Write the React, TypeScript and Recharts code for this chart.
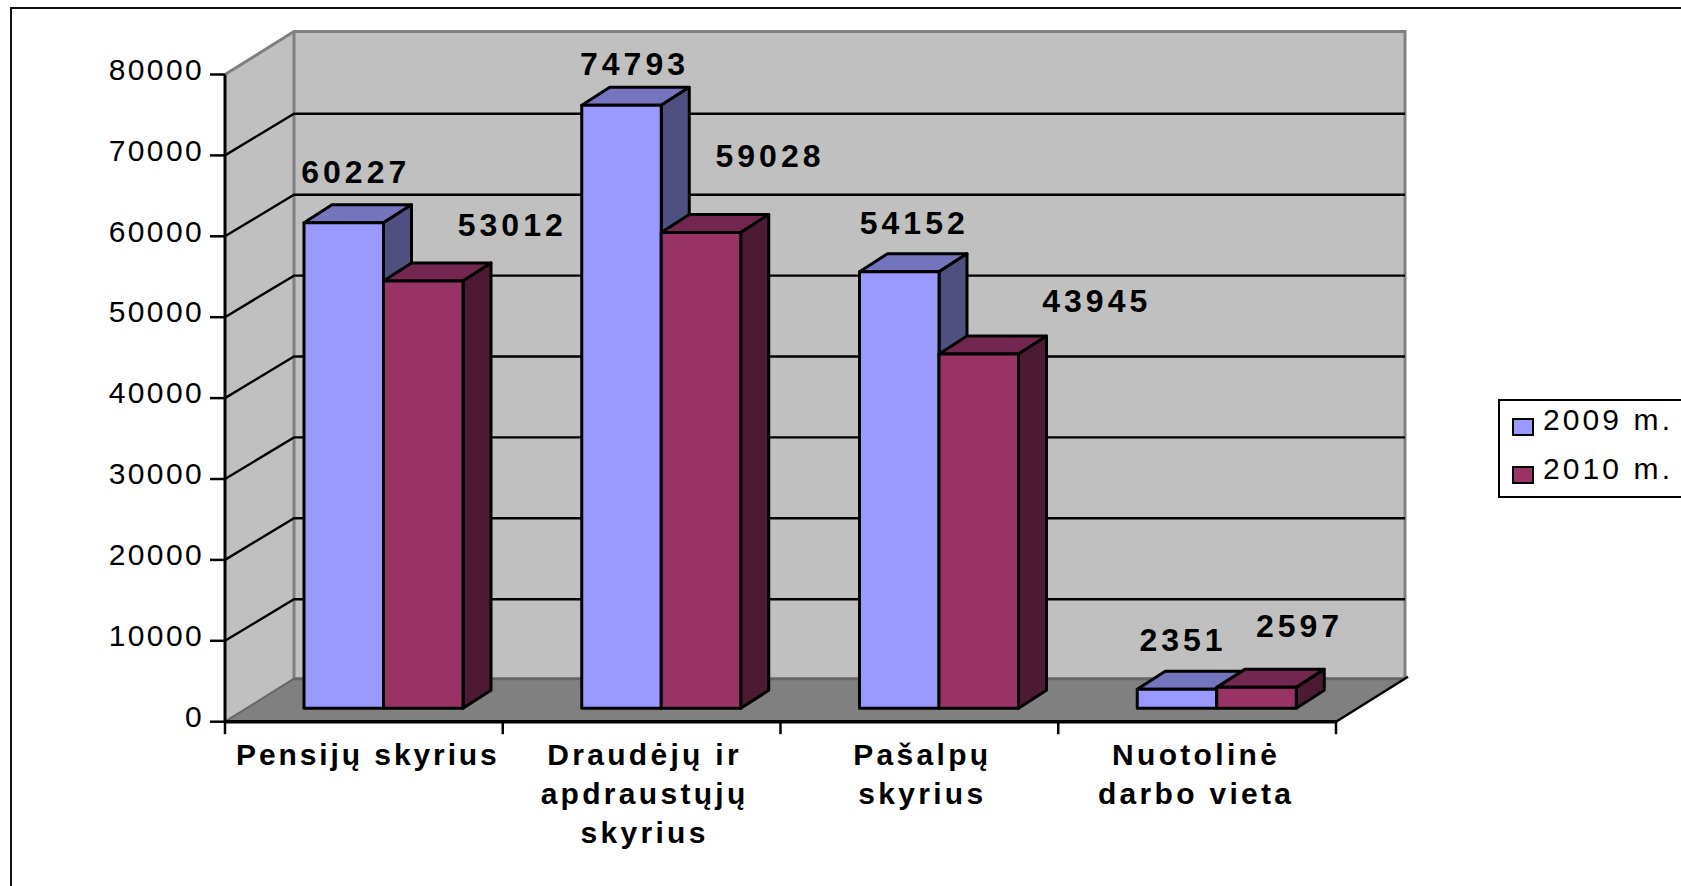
import React from "react";
import { BarChart, Bar, XAxis, YAxis, CartesianGrid, Legend, LabelList } from "recharts";

const categoryLines = [
  ["Pensijų skyrius"],
  ["Draudėjų ir", "apdraustųjų", "skyrius"],
  ["Pašalpų", "skyrius"],
  ["Nuotolinė", "darbo vieta"],
];
const categories = categoryLines.map((l) => l.join(" "));
const values2009 = [60227, 74793, 54152, 2351];
const values2010 = [53012, 59028, 43945, 2597];
const yTicks = [0, 10000, 20000, 30000, 40000, 50000, 60000, 70000, 80000];
const seriesNames = ["2009 m.", "2010 m."];

const rows = categories.map((name, i) => ({ name, a: values2009[i], b: values2010[i] }));

const W = 1681;
const H = 886;
const PLOT = { left: 225, right: 1336, top: 74.5, bottom: 721.7 };
const WALL_DX = 69;
const WALL_DY = 43;
const GRID_DY = 41.6;
const BAR_DX = 20;
const BAR_DY = -13.4;
const BAR_SCALE = 0.9965;
const DEPTH_X = 28;
const DEPTH_Y = 18;
const FONT = "'Liberation Sans', Arial, sans-serif";

const labelNudge2009 = [[12, 38], [13, 28], [15, 36], [6, 38]];
const labelNudge2010 = [[89, 43], [69, 64], [118, 41], [43, 50]];
const xLabelNudge = [4, 3, 3, -1];
const xLabelSpacing = [2.9, 3.3, 3.3, 3.3];

const C1 = { front: "#9999FF", top: "#7575BF", side: "#4F4F80" };
const C2 = { front: "#993366", top: "#732650", side: "#4D1A33" };

const makeShape = (c: typeof C1) => (p: any) => {
  const x = p.x + BAR_DX;
  const h = p.height * BAR_SCALE;
  const y = p.y + p.height - h + BAR_DY;
  const w = p.width;
  const s = { stroke: "#000", strokeWidth: 3, strokeLinejoin: "round" as const };
  return (
    <g>
      <polygon points={`${x},${y} ${x + DEPTH_X},${y - DEPTH_Y} ${x + w + DEPTH_X},${y - DEPTH_Y} ${x + w},${y}`} fill={c.top} {...s} />
      <polygon points={`${x + w},${y} ${x + w + DEPTH_X},${y - DEPTH_Y} ${x + w + DEPTH_X},${y + h - DEPTH_Y} ${x + w},${y + h}`} fill={c.side} {...s} />
      <rect x={x} y={y} width={w} height={h} fill={c.front} {...s} />
    </g>
  );
};

const makeLabel = (nudge: number[][]) => (p: any) => {
  const [dx, dy] = nudge[p.index];
  return (
    <text
      x={p.x + p.width / 2 + BAR_DX + dx}
      y={p.y + BAR_DY - dy}
      textAnchor="middle"
      fontFamily={FONT}
      fontWeight="bold"
      fontSize={32}
      letterSpacing={4}
      fill="#000"
    >
      {p.value}
    </text>
  );
};

const Walls = () => {
  const { left: l, right: r, top: t, bottom: b } = PLOT;
  const dx = WALL_DX;
  const dy = WALL_DY;
  return (
    <svg width={W} height={H} style={{ position: "absolute", left: 0, top: 0 }}>
      <polygon points={`${l},${t} ${l + dx},${t - dy} ${l + dx},${b - dy} ${l},${b}`} fill="#C0C0C0" />
      <rect x={l + dx} y={t - dy} width={r - l} height={b - t} fill="#C0C0C0" />
      <polygon points={`${l},${b} ${l + dx},${b - dy} ${r + dx},${b - dy} ${r},${b}`} fill="#808080" />
      <path d={`M${l},${t} L${l + dx},${t - dy} L${r + dx},${t - dy} L${r + dx},${b - dy}`} fill="none" stroke="#808080" strokeWidth={3} />
      <line x1={l + dx} y1={t - dy} x2={l + dx} y2={b - dy} stroke="#808080" strokeWidth={3} />
      <line x1={l + dx} y1={b - dy} x2={r + dx} y2={b - dy} stroke="#666" strokeWidth={3} />
      <line x1={l} y1={b} x2={l + dx} y2={b - dy} stroke="#666" strokeWidth={2} />
      <line x1={r} y1={b} x2={r + dx + 3} y2={b - dy - 2} stroke="#000" strokeWidth={2.5} />
    </svg>
  );
};

const gridLine = (p: any) => {
  const y = p.y1;
  if (Math.abs(y - PLOT.top) < 1 || Math.abs(y - PLOT.bottom) < 1) return <g key={p.key ?? y} />;
  const x0 = PLOT.left;
  return (
    <path
      key={p.key ?? y}
      d={`M${x0},${y} L${x0 + WALL_DX},${y - GRID_DY} L${PLOT.right + WALL_DX},${y - GRID_DY}`}
      fill="none"
      stroke="#000"
      strokeWidth={2.4}
    />
  );
};

const YTick = (p: any) => (
  <text x={201.7 + 2.4} y={p.y + 5.2} textAnchor="end" fontFamily={FONT} fontSize={30} letterSpacing={2.4} fill="#000">
    {p.payload.value}
  </text>
);

const XTick = (p: any) => {
  const band = (PLOT.right - PLOT.left) / categories.length;
  const i = p.index ?? p.payload.index;
  const lines = categoryLines[i] ?? [];
  const start = PLOT.left + band * i;
  return (
    <g>
      <line x1={start} y1={PLOT.bottom} x2={start} y2={PLOT.bottom + 12.5} stroke="#000" strokeWidth={2.5} />
      {i === categories.length - 1 && (
        <line x1={PLOT.right} y1={PLOT.bottom} x2={PLOT.right} y2={PLOT.bottom + 12.5} stroke="#000" strokeWidth={2.5} />
      )}
      {lines.map((t, k) => (
        <text
          key={k}
          x={p.x + xLabelNudge[i]}
          y={765 + 39 * k}
          textAnchor="middle"
          fontFamily={FONT}
          fontWeight="bold"
          fontSize={30}
          letterSpacing={xLabelSpacing[i]}
          fill="#000"
        >
          {t}
        </text>
      ))}
    </g>
  );
};

const LegendBox = (p: any) => (
  <div
    style={{
      boxSizing: "border-box",
      width: 190,
      height: 99,
      border: "2.5px solid #000",
      background: "#fff",
      position: "relative",
      fontFamily: FONT,
      fontSize: 30,
      letterSpacing: 3.1,
      color: "#000",
    }}
  >
    {(p.payload ?? []).map((e: any, i: number) => (
      <React.Fragment key={i}>
        <div
          style={{
            position: "absolute",
            boxSizing: "border-box",
            left: 12,
            top: 17 + 48.5 * i,
            width: 22,
            height: 18,
            background: e.color,
            border: "2.5px solid #000",
          }}
        />
        <div style={{ position: "absolute", left: 43, top: -1 + 49 * i, lineHeight: "40px", whiteSpace: "nowrap" }}>{e.value}</div>
      </React.Fragment>
    ))}
  </div>
);

export default function App() {
  return (
    <div style={{ position: "absolute", left: 0, top: 0, width: W, height: H, overflow: "hidden", background: "#fff" }}>
      <div
        style={{
          position: "absolute",
          left: 10,
          top: 7,
          width: W,
          height: H,
          borderLeft: "2.6px solid #111",
          borderTop: "2.6px solid #111",
        }}
      />
      <Walls />
      <BarChart
        width={W}
        height={H}
        data={rows}
        barGap={0}
        barSize={79.5}
        margin={{ left: 0, top: PLOT.top, right: W - PLOT.right, bottom: 0 }}
        style={{ position: "absolute", left: 0, top: 0 }}
      >
        <CartesianGrid vertical={false} horizontal={gridLine} />
        <XAxis
          dataKey="name"
          height={H - PLOT.bottom}
          interval={0}
          tick={XTick}
          tickLine={false}
          axisLine={{ stroke: "#000", strokeWidth: 3.4 }}
        />
        <YAxis
          width={PLOT.left}
          domain={[0, 80000]}
          ticks={yTicks}
          interval={0}
          tick={YTick}
          tickSize={15}
          tickLine={{ stroke: "#000", strokeWidth: 2.5 }}
          axisLine={{ stroke: "#000", strokeWidth: 3 }}
        />
        <Bar dataKey="a" name={seriesNames[0]} fill={C1.front} shape={makeShape(C1)} isAnimationActive={false}>
          <LabelList dataKey="a" content={makeLabel(labelNudge2009)} />
        </Bar>
        <Bar dataKey="b" name={seriesNames[1]} fill={C2.front} shape={makeShape(C2)} isAnimationActive={false}>
          <LabelList dataKey="b" content={makeLabel(labelNudge2010)} />
        </Bar>
        <Legend
          layout="vertical"
          align="center"
          verticalAlign="middle"
          content={LegendBox}
          wrapperStyle={{ left: 1498, top: 398.5, width: 190, height: 99 }}
        />
      </BarChart>
    </div>
  );
}
